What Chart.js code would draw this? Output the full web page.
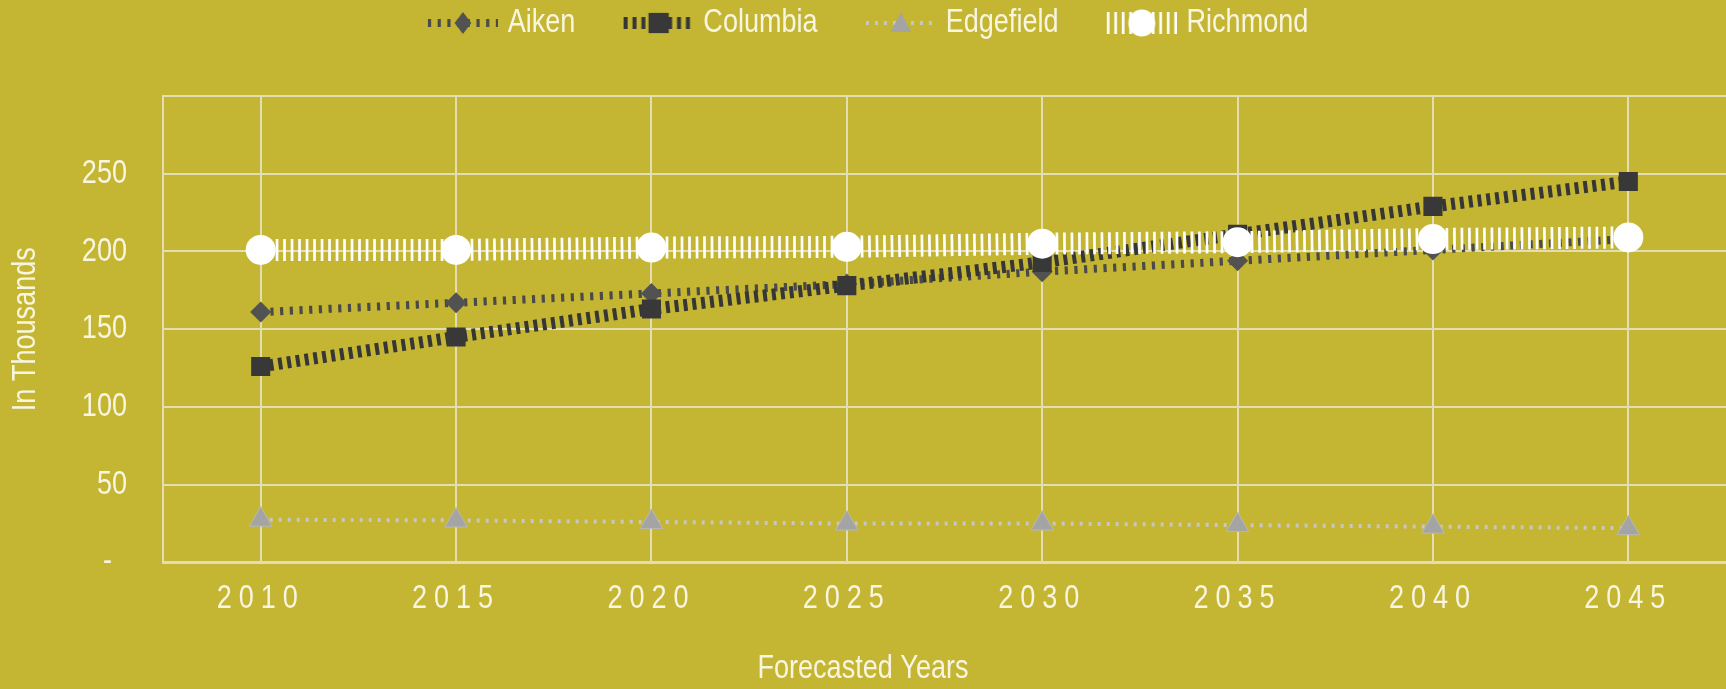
<!DOCTYPE html>
<html>
<head>
<meta charset="utf-8">
<title>Population Forecast by County</title>
<script src="https://cdn.jsdelivr.net/npm/chart.js@4.4.1/dist/chart.umd.min.js"></script>
<style>
  html, body { margin: 0; padding: 0; background: #C4B632; overflow: hidden; }
  #wrap { position: relative; width: 1726px; height: 689px; }
</style>
</head>
<body>
<div id="wrap"><canvas id="chart"></canvas></div>
<script>
// Forecast years (x axis)
const years = ['2010', '2015', '2020', '2025', '2030', '2035', '2040', '2045'];

// Population per county, in thousands
const aiken     = [161, 167, 173, 179, 187, 194, 201, 208];
const columbia  = [126, 145, 163, 178, 193, 211, 229, 245];
const edgefield = [27.5, 27, 26, 25, 25, 24, 23, 22];
const richmond  = [201, 201, 202.5, 203, 205, 206, 208, 209];

// Labelled y-axis values
const yTickValues = [0, 50, 100, 150, 200, 250];

const TEXT = '#F8F5E1';
const GRID = '#E3DDB3';
const FONT = "'Liberation Sans', Arial, sans-serif";
const font = { family: FONT, size: 33, weight: 'normal' };

// Narrow lettering: every label is drawn horizontally condensed.
const NARROW = 0.82;
function condenseText(ctx) {
  const fill = ctx.fillText.bind(ctx);
  const measure = ctx.measureText.bind(ctx);
  ctx.fillText = function (text, x, y, maxWidth) {
    this.save();
    this.translate(x, y);
    this.scale(NARROW, 1);
    if (maxWidth === undefined) fill(text, 0, 0);
    else fill(text, 0, 0, maxWidth / NARROW);
    this.restore();
  };
  ctx.measureText = function (text) {
    const m = measure(text);
    return {
      width: m.width * NARROW,
      actualBoundingBoxAscent: m.actualBoundingBoxAscent,
      actualBoundingBoxDescent: m.actualBoundingBoxDescent,
      actualBoundingBoxLeft: m.actualBoundingBoxLeft * NARROW,
      actualBoundingBoxRight: m.actualBoundingBoxRight * NARROW,
      fontBoundingBoxAscent: m.fontBoundingBoxAscent,
      fontBoundingBoxDescent: m.fontBoundingBoxDescent
    };
  };
}

const datasets = [
  {
    label: 'Aiken', data: aiken,
    borderColor: '#4A4A4A', borderWidth: 8, borderDash: [3.2, 6.5], borderCapStyle: 'butt',
    pointStyle: 'rectRot', pointRadius: 10.5, pointHoverRadius: 10.5,
    pointBackgroundColor: '#525252', pointBorderColor: '#525252', pointBorderWidth: 0,
    order: 3
  },
  {
    label: 'Columbia', data: columbia,
    borderColor: '#363636', borderWidth: 12, borderDash: [4, 4.9], borderCapStyle: 'butt',
    pointStyle: 'rect', pointRadius: 13.5, pointHoverRadius: 13.5,
    pointBackgroundColor: '#383838', pointBorderColor: '#383838', pointBorderWidth: 0,
    order: 2
  },
  {
    label: 'Edgefield', data: edgefield,
    borderColor: '#C6C6C6', borderWidth: 4, borderDash: [3, 6], borderCapStyle: 'butt',
    pointStyle: 'triangle', pointRadius: 13, pointHoverRadius: 13,
    pointBackgroundColor: '#A4A4A4', pointBorderColor: '#B8B8B8', pointBorderWidth: 1,
    order: 4
  },
  {
    label: 'Richmond', data: richmond,
    borderColor: '#FFFFFF', borderWidth: 22, borderDash: [2.7, 4.8], borderCapStyle: 'butt',
    pointStyle: 'circle', pointRadius: 15, pointHoverRadius: 15,
    pointBackgroundColor: '#FFFFFF', pointBorderColor: '#FFFFFF', pointBorderWidth: 0,
    order: 1
  }
];

// Legend glyph: a short dashed stroke with the series marker in its middle.
// The glyph sits in the right part of a wider transparent canvas so the
// legend entries get more room between them.
function legendGlyph(ds) {
  const c = document.createElement('canvas');
  c.width = 117; c.height = 30;
  const g = c.getContext('2d');
  const cy = 15, x0 = 47, x1 = 117, cx = 82;
  g.strokeStyle = ds.borderColor;
  g.lineWidth = ds.borderWidth;
  g.setLineDash(ds.borderDash);
  g.beginPath(); g.moveTo(x0, cy); g.lineTo(x1, cy); g.stroke();
  g.setLineDash([]);
  g.fillStyle = ds.pointBackgroundColor;
  const r = ds.pointRadius;
  g.beginPath();
  if (ds.pointStyle === 'rectRot') {
    g.moveTo(cx, cy - r * 1.05); g.lineTo(cx + r * 0.8, cy); g.lineTo(cx, cy + r * 1.05); g.lineTo(cx - r * 0.8, cy);
  } else if (ds.pointStyle === 'rect') {
    const h = r * 0.75;
    g.rect(cx - h, cy - h, 2 * h, 2 * h);
  } else if (ds.pointStyle === 'triangle') {
    g.moveTo(cx, cy - r * 0.8); g.lineTo(cx + r * 0.8, cy + r * 0.7); g.lineTo(cx - r * 0.8, cy + r * 0.7);
  } else {
    g.arc(cx, cy, r * 0.9, 0, Math.PI * 2);
  }
  g.closePath();
  g.fill();
  return c;
}
const glyphs = datasets.map(legendGlyph);

// Legend spacing and letter-spaced year labels
const layoutTweaks = {
  id: 'layoutTweaks',
  beforeLayout(chart) {
    const lg = chart.legend;
    if (lg && !lg.__tuned) {
      const fit = lg.fit;
      lg.fit = function () { fit.call(this); this.height = 96; };
      const draw = lg.draw;
      lg.draw = function () {
        const c = this.ctx;
        c.save(); c.translate(-15, -1.5); draw.call(this); c.restore();
      };
      lg.__tuned = true;
    }
  },
  beforeDraw(chart) { chart.ctx.letterSpacing = '0px'; },
  afterDatasetsDraw(chart) { chart.ctx.letterSpacing = '8.5px'; },
  afterDraw(chart) { chart.ctx.letterSpacing = '0px'; }
};

const canvas = document.getElementById('chart');
condenseText(canvas.getContext('2d'));

new Chart(canvas, {
  type: 'line',
  data: { labels: years, datasets },
  plugins: [layoutTweaks],
  options: {
    responsive: true,
    maintainAspectRatio: false,
    animation: false,
    devicePixelRatio: 1,
    layout: { padding: 0, autoPadding: false },
    elements: { line: { tension: 0 } },
    plugins: {
      legend: {
        position: 'top',
        labels: {
          usePointStyle: true,
          pointStyleWidth: 103.5,
          padding: 8,
          color: TEXT,
          font,
          generateLabels(chart) {
            return chart.data.datasets.map((ds, i) => ({
              text: ds.label,
              pointStyle: glyphs[i],
              fillStyle: ds.borderColor,
              strokeStyle: ds.borderColor,
              lineWidth: 0,
              fontColor: TEXT,
              hidden: !chart.isDatasetVisible(i),
              datasetIndex: i
            }));
          }
        }
      },
      title: {
        display: true,
        position: 'bottom',
        text: 'Forecasted Years',
        color: TEXT,
        font,
        padding: 0
      },
      tooltip: { enabled: false }
    },
    scales: {
      x: {
        type: 'category',
        offset: true,
        afterFit(s) { s.height = 87; },
        grid: { color: GRID, lineWidth: 2, drawTicks: false, offset: false },
        border: { color: GRID, width: 3 },
        ticks: {
          color: TEXT, font, padding: 17, maxRotation: 0, autoSkip: false, z: 1
        }
      },
      y: {
        min: 0,
        max: 300,
        afterFit(s) { s.width = 163; },
        grid: { color: GRID, lineWidth: 2, drawTicks: false },
        border: { color: GRID, width: 2 },
        ticks: {
          stepSize: 50,
          color: TEXT,
          font,
          padding: 36,
          callback(v) {
            if (!yTickValues.includes(v)) return '';
            return v === 0 ? '-  ' : String(v);
          }
        },
        title: {
          display: true,
          text: 'In Thousands',
          color: TEXT,
          font,
          padding: { top: 6, bottom: 0 }
        }
      }
    }
  }
});
</script>
</body>
</html>
